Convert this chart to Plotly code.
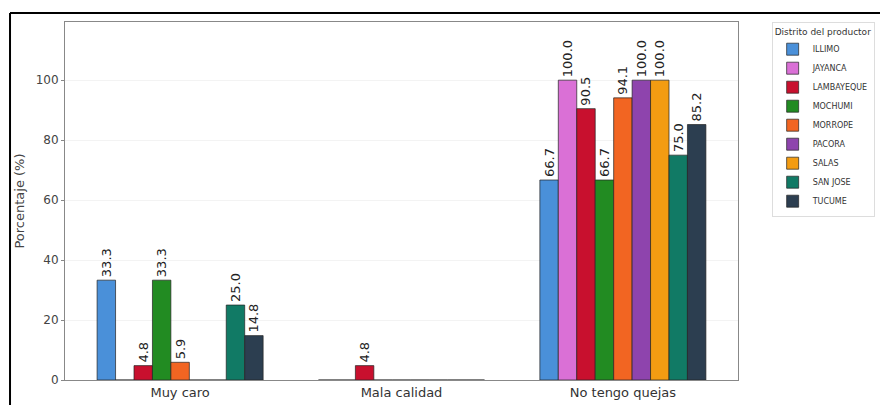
import plotly.graph_objects as go

categories = ["Muy caro", "Mala calidad", "No tengo quejas"]
districts = ["ILLIMO", "JAYANCA", "LAMBAYEQUE", "MOCHUMI", "MORROPE",
             "PACORA", "SALAS", "SAN JOSE", "TUCUME"]
values = {
    "ILLIMO":     [33.3, 0.0, 66.7],
    "JAYANCA":    [0.0, 0.0, 100.0],
    "LAMBAYEQUE": [4.8, 4.8, 90.5],
    "MOCHUMI":    [33.3, 0.0, 66.7],
    "MORROPE":    [5.9, 0.0, 94.1],
    "PACORA":     [0.0, 0.0, 100.0],
    "SALAS":      [0.0, 0.0, 100.0],
    "SAN JOSE":   [25.0, 0.0, 75.0],
    "TUCUME":     [14.8, 0.0, 85.2],
}
colors = ["#4A90D9", "#DA70D6", "#C8102E", "#228B22", "#F26522",
          "#8E44AD", "#F39C12", "#117A65", "#2C3E50"]

fig = go.Figure()
for d, c in zip(districts, colors):
    v = values[d]
    fig.add_trace(go.Bar(
        x=categories, y=v, name=d,
        marker=dict(color=c, line=dict(color="#222222", width=0.7)),
        text=[f"{a:.1f}" if a > 0 else "" for a in v],
        textposition="outside", textangle=-90, constraintext="none",
        textfont=dict(size=13, color="#222222", family="DejaVu Sans"),
        cliponaxis=False,
    ))

fig.update_layout(
    width=880, height=397,
    margin=dict(l=57, r=150, t=14, b=25, autoexpand=False),
    paper_bgcolor="white", plot_bgcolor="white",
    barmode="group", bargap=0.25, bargroupgap=0,
    font=dict(family="DejaVu Sans", color="#333333"),
    legend=dict(
        title=dict(text="Distrito del productor", font=dict(size=9, color="#333333")),
        font=dict(size=8, color="#333333"),
        x=1.05, xanchor="left", y=1.0, yanchor="top",
        bordercolor="#dddddd", borderwidth=1, bgcolor="white",
        itemwidth=30, tracegroupgap=0,
    ),
    xaxis=dict(
        range=[-0.52, 2.52], showline=True, linecolor="#888888", linewidth=1,
        mirror=True, ticks="", tickfont=dict(size=13, color="#333333"),
        showgrid=False, automargin=False,
    ),
    yaxis=dict(
        range=[0, 119.4], showline=True, linecolor="#888888", linewidth=1,
        mirror=True, ticks="outside", ticklen=3, tickcolor="#888888",
        tickvals=[0, 20, 40, 60, 80, 100],
        tickfont=dict(size=12, color="#444444"),
        showgrid=True, gridcolor="#f3f3f3", zeroline=False, automargin=False,
        title=dict(text="Porcentaje (%)", font=dict(size=13, color="#444444"), standoff=8),
    ),
    shapes=[
        dict(type="line", xref="paper", yref="paper", x0=-0.0817, x1=-0.0817,
             y0=-0.2, y1=1.025, line=dict(color="black", width=2)),
        dict(type="line", xref="paper", yref="paper", x0=-0.0817, x1=1.3,
             y0=1.025, y1=1.025, line=dict(color="black", width=2)),
    ],
)

fig.write_html("out.html")
